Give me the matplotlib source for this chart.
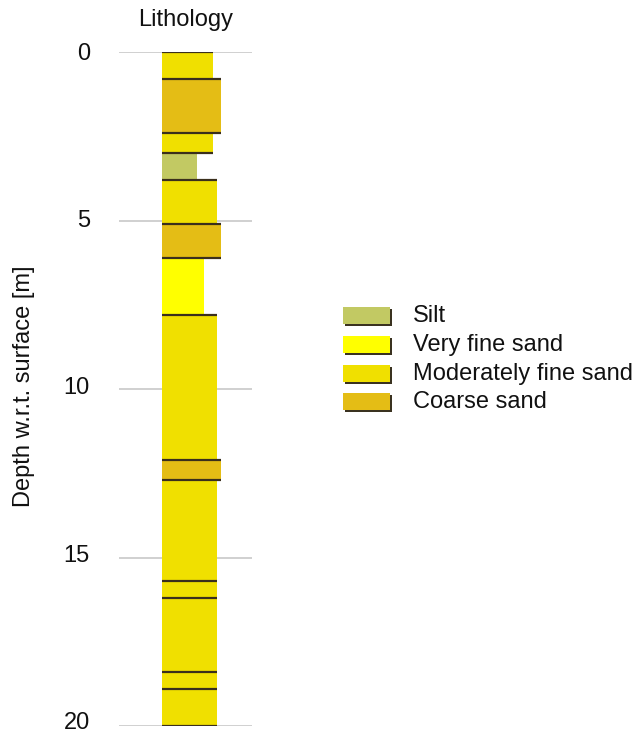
import matplotlib
matplotlib.use("Agg")
import matplotlib.pyplot as plt
from matplotlib.patches import Rectangle
from matplotlib.transforms import ScaledTranslation

plt.rcParams['font.family'] = ['Liberation Sans', 'DejaVu Sans']

# ---- data ----
layer_top = [0.0, 0.8, 2.4, 3.0, 3.8, 5.1, 6.1, 7.8, 12.1, 12.7, 15.7, 16.2, 18.4, 18.9]
layer_bottom = [0.8, 2.4, 3.0, 3.8, 5.1, 6.1, 7.8, 12.1, 12.7, 15.7, 16.2, 18.4, 18.9, 20.0]
layer_lith = ["Moderately fine sand", "Coarse sand", "Moderately fine sand", "Silt",
              "Moderately fine sand", "Coarse sand", "Very fine sand", "Moderately fine sand",
              "Coarse sand", "Moderately fine sand", "Moderately fine sand",
              "Moderately fine sand", "Moderately fine sand", "Moderately fine sand"]
layer_width = [0.384, 0.444, 0.384, 0.263, 0.414, 0.444, 0.316, 0.414,
               0.444, 0.414, 0.414, 0.414, 0.414, 0.414]
legend_labels = ["Silt", "Very fine sand", "Moderately fine sand", "Coarse sand"]
legend_colors = ["#c2c963", "#ffff00", "#f0e000", "#e4bd15"]
depth_ticks = [0, 5, 10, 15, 20]

color_of = dict(zip(legend_labels, legend_colors))

W, H = 637, 735
fig = plt.figure(figsize=(W / 100, H / 100), dpi=100)
ax = fig.add_axes([119 / W, 1 - 726 / H, 133 / W, 674 / H])

col_left = 0.323
ax.set_xlim(0, 1)
ax.set_ylim(20, 0)

for t in depth_ticks:
    ax.axhline(t, color="#c8c8c8", lw=1.2, zorder=0)

for top, bot, lith, w in zip(layer_top, layer_bottom, layer_lith, layer_width):
    ax.barh(top, w, height=bot - top, left=col_left, align="edge",
            color=color_of[lith], edgecolor="none", zorder=2)

# boundary lines
bounds = [layer_top[0]] + layer_bottom
for i, b in enumerate(bounds):
    adj = []
    if i - 1 >= 0:
        adj.append(layer_width[i - 1])
    if i < len(layer_width):
        adj.append(layer_width[i])
    ax.hlines(b, col_left, col_left + max(adj), color="#3a2f1c", lw=1.6, zorder=3)

ax.set_xticks([])
ax.set_yticks(depth_ticks)
ax.set_yticklabels([str(t) for t in depth_ticks], fontsize=17, color="#111111")
ax.tick_params(axis="y", length=0, pad=21)
for k, lbl in enumerate(ax.get_yticklabels()):
    dy = (1 + 1.1 * k) / 100
    lbl.set_transform(lbl.get_transform() + ScaledTranslation(0, dy, fig.dpi_scale_trans))
for s in ax.spines.values():
    s.set_visible(False)
ax.set_title("Lithology", fontsize=17, pad=19, color="#111111")

fig.text(24 / W, 1 - 386 / H, "Depth w.r.t. surface [m]", rotation=90,
         ha="center", va="center", fontsize=17, color="#111111")

# legend
lax = fig.add_axes([0, 0, 1, 1])
lax.set_xlim(0, W)
lax.set_ylim(H, 0)
lax.axis("off")
row_y = [307, 336, 365, 393]
for y, lab, col in zip(row_y, legend_labels, legend_colors):
    lax.add_patch(Rectangle((345, y + 2), 47, 17, facecolor="#3a3220", edgecolor="none"))
    lax.add_patch(Rectangle((343, y), 47, 17, facecolor=col, edgecolor="none"))
    lax.text(413, y + 8.5, lab, fontsize=17, va="center", ha="left", color="#111111")

fig.savefig("out.png", dpi=100)
